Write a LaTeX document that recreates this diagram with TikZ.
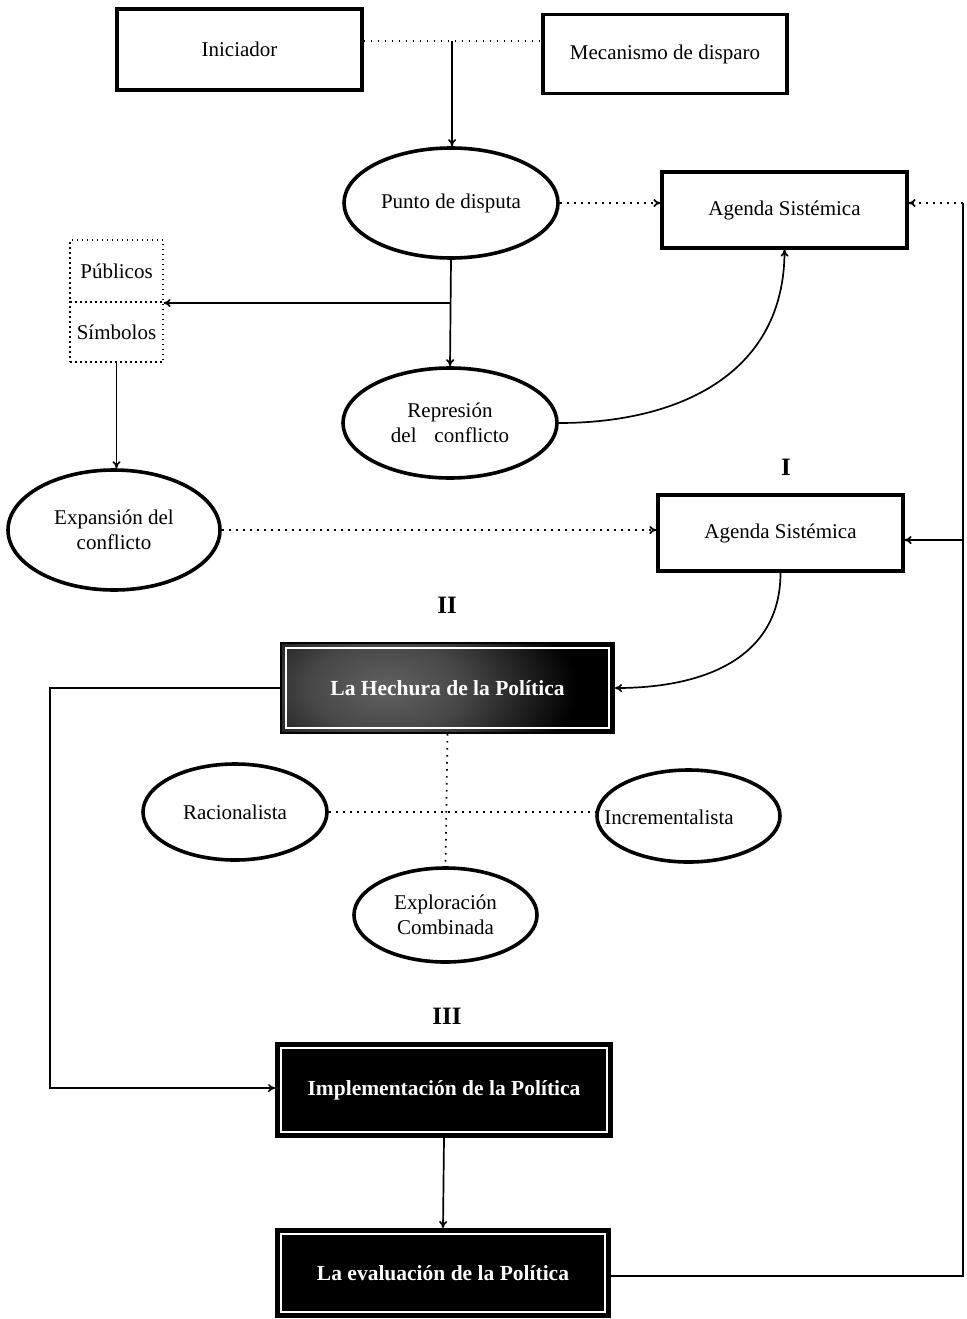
\documentclass[tikz,border=0pt]{standalone}
\usepackage{fontspec}
\setmainfont{Liberation Serif}
\usetikzlibrary{shapes.geometric,arrows.meta,calc}
% soft grey patch that fades to black well inside its outline
\pgfdeclareradialshading{hpatch}{\pgfpoint{0bp}{0bp}}{color(0bp)=(black!62); color(8bp)=(black!72); color(20bp)=(black); color(50bp)=(black)}
% white inner frame of the dark policy boxes
\newcommand\dkframe{\draw[white,line width=1.6pt]
  ([shift={(5,5)}]path picture bounding box.north west) rectangle
  ([shift={(-5,-5)}]path picture bounding box.south east);}
\begin{document}
\begin{tikzpicture}[x=1pt,y=-1pt,
  every node/.style={font=\fontsize{21}{25}\selectfont, align=center, inner sep=0pt},
  plainbox/.style={draw, line width=3.2pt, rectangle},
  ovalbox/.style={draw, line width=3.6pt, ellipse},
  darkbox/.style={draw=black, fill=black, line width=2pt, rectangle, text=white,
    font=\fontsize{21.5}{25}\selectfont\bfseries, path picture={\dkframe}},
  dotbox/.style={draw, line width=1.4pt, dash pattern=on 1.5pt off 3.5pt, rectangle},
  link/.style={line width=1.7pt},
  dotlink/.style={line width=1.7pt, dash pattern=on 1.7pt off 5.3pt},
  arrowto/.style={-{To[length=7pt,width=8pt]}},
  stage/.style={font=\fontsize{25}{28}\selectfont\bfseries}
]
\useasboundingbox (0,0) rectangle (966,1319);

% ---- nodes ----
\node[plainbox, minimum width=245pt, minimum height=81pt] (ini) at (239.5,49.5) {Iniciador};
\node[plainbox, minimum width=244pt, minimum height=79pt] (mec) at (665,54) {Mecanismo de disparo};
\node[ovalbox, minimum width=214pt, minimum height=110pt] (pd) at (451,203) {Punto de disputa};
\node[plainbox, minimum width=245pt, minimum height=76pt] (ag1) at (784.5,210) {Agenda Sistémica};
\node[dotbox, minimum width=93pt, minimum height=62pt] (pub) at (116.5,271) {Públicos};
\node[dotbox, minimum width=93pt, minimum height=60pt] (sim) at (116.5,332) {Símbolos};
\node[ovalbox, minimum width=214pt, minimum height=110pt] (rep) at (450,423) {Represión\\del\hspace{0.6em} conflicto};
\node[ovalbox, minimum width=212pt, minimum height=120pt] (exp) at (114,530) {Expansión del\\conflicto};
\node[stage] (s1) at (786,467) {I};
\node[plainbox, minimum width=245pt, minimum height=76pt] (ag2) at (780.5,533) {Agenda Sistémica};
\node[stage] (s2) at (447,605) {II};
\node[darkbox, minimum width=333pt, minimum height=90pt,
  path picture={\shade[shading=hpatch]
    ($(path picture bounding box.west)+(105,0)$) ellipse [x radius=240, y radius=140]; \dkframe}]
  (hech) at (447.5,688) {La Hechura de la Política};
\node[ovalbox, minimum width=184pt, minimum height=96pt] (rac) at (235,812) {Racionalista};
\node[ovalbox, minimum width=183pt, minimum height=92pt] (inc) at (688.5,816) {};
\node (inctext) at (669,817) {Incrementalista};
\node[ovalbox, minimum width=183pt, minimum height=94pt] (exc) at (445.5,915) {Exploración\\Combinada};
\node[stage] (s3) at (447,1016) {III};
\node[darkbox, minimum width=336pt, minimum height=94pt] (impl) at (444,1090) {Implementación de la Política};
\node[darkbox, minimum width=334pt, minimum height=88pt] (ev) at (443,1273) {La evaluación de la Política};

% ---- helper points ----
\coordinate (j) at (452,41);
\coordinate (b) at (451,303);
\coordinate (r1) at (963,203);
\coordinate (r2) at (963,540);
\coordinate (r3) at (963,1276);
\coordinate (l1) at (50,688);
\coordinate (l2) at (50,1088);

% ---- connectors ----
\draw[dotlink] (ini.east |- j) -- (mec.west |- j);
\draw[link, arrowto] (j) -- (j |- pd.north);
\draw[dotlink, arrowto] (pd.east) -- (pd.east -| ag1.west);
\draw[link, arrowto] (pd.south) -- (rep.north);
\draw[link, arrowto] (b) -- (b -| sim.east);
\draw[link, arrowto] (rep.east) to[out=0, in=-90, looseness=1.1] (ag1.south);
\draw[link, arrowto] (sim.south) -- (sim.south |- exp.north);
\draw[dotlink, arrowto] (exp.east) -- (exp.east -| ag2.west);
\draw[link] (ev.east |- r3) -- (r3) -- (r1);
\draw[dotlink, arrowto] (r1) -- (r1 -| ag1.east);
\draw[link, arrowto] (r2) -- (r2 -| ag2.east);
\draw[link, arrowto] (ag2.south) to[out=-90, in=0, looseness=1.1] (hech.east);
\draw[link, arrowto] (hech.west) -- (l1) -- (l2) -- (l2 -| impl.west);
\draw[dotlink] (hech.south) -- (exc.north);
\draw[dotlink] (rac.east) -- (rac.east -| inc.west);
\draw[link, arrowto] (impl.south) -- (ev.north);
\end{tikzpicture}
\end{document}
